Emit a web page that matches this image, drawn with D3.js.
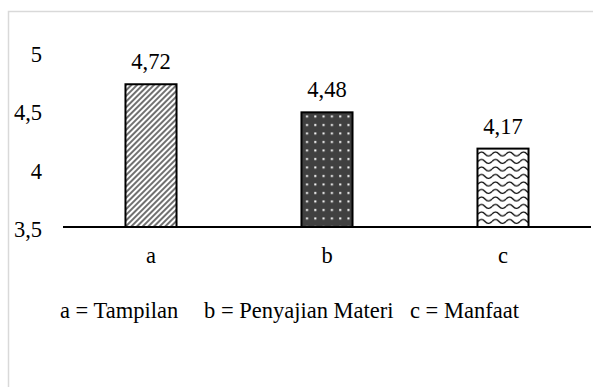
<!DOCTYPE html>
<html>
<head>
<meta charset="utf-8">
<script src="https://cdn.jsdelivr.net/npm/d3@7"></script>
<style>
  html, body { margin: 0; padding: 0; background: #fff; }
  svg { display: block; }
</style>
</head>
<body>
<svg id="chart" width="593" height="387" font-family="'Liberation Serif', 'DejaVu Serif', serif"></svg>
<script>
const categories = ["a", "b", "c"];
const values = [4.72, 4.48, 4.17];
const valueLabels = ["4,72", "4,48", "4,17"];
const yTicks = [3.5, 4, 4.5, 5];
const yTickLabels = ["3,5", "4", "4,5", "5"];
const legendItems = ["a = Tampilan", "b = Penyajian Materi", "c = Manfaat"];
const patterns = ["pat-diag", "pat-dots", "pat-wave"];
const FONT = "Liberation Serif";

const svg = d3.select("#chart");
const defs = svg.append("defs");

// diagonal hatch
const p1 = defs.append("pattern").attr("id", "pat-diag").attr("patternUnits", "userSpaceOnUse")
  .attr("width", 4).attr("height", 4).attr("patternTransform", "rotate(45)");
p1.append("rect").attr("width", 4).attr("height", 4).attr("fill", "#fff");
p1.append("line").attr("x1", 1).attr("y1", 0).attr("x2", 1).attr("y2", 4)
  .attr("stroke", "#333").attr("stroke-width", 1.4);

// dark with white dots
const p2 = defs.append("pattern").attr("id", "pat-dots").attr("patternUnits", "userSpaceOnUse")
  .attr("width", 8.3).attr("height", 8.5).attr("x", 303).attr("y", 2);
p2.append("rect").attr("width", 8.3).attr("height", 8.5).attr("fill", "#404040");
p2.append("rect").attr("x", 3).attr("y", 3).attr("width", 2).attr("height", 2).attr("fill", "#fff");

// wave
const p3 = defs.append("pattern").attr("id", "pat-wave").attr("patternUnits", "userSpaceOnUse")
  .attr("width", 14).attr("height", 7.5).attr("x", 478).attr("y", 0);
p3.append("rect").attr("width", 14).attr("height", 7.5).attr("fill", "#fff");
p3.append("path").attr("d", "M0,4 Q3.5,0 7,4 T14,4").attr("fill", "none")
  .attr("stroke", "#000").attr("stroke-width", 1.3);

// outer border
svg.append("rect").attr("x", 8.5).attr("y", 11.5).attr("width", 620).attr("height", 420)
  .attr("fill", "none").attr("stroke", "#d9d9d9").attr("stroke-width", 1.5);

const x = d3.scaleBand().domain(categories).range([63, 591])
  .paddingInner(0.71).paddingOuter(0.355);
const y = d3.scaleLinear().domain([3.5, 5]).range([227, 51.5]);

function styleText(sel) {
  return sel.attr("font-family", FONT).attr("font-size", 22.5).attr("fill", "#000");
}

// y tick labels
svg.append("g").selectAll("text").data(yTicks).join("text")
  .attr("x", 42).attr("y", d => y(d) + 10)
  .attr("text-anchor", "end")
  .call(styleText)
  .text((d, i) => yTickLabels[i]);

// bars
svg.append("g").selectAll("rect").data(values).join("rect")
  .attr("x", (d, i) => x(categories[i]))
  .attr("y", d => y(d))
  .attr("width", x.bandwidth())
  .attr("height", d => y(3.5) - y(d))
  .attr("fill", (d, i) => `url(#${patterns[i]})`)
  .attr("stroke", "#000").attr("stroke-width", 2);

// value labels
svg.append("g").selectAll("text").data(values).join("text")
  .attr("x", (d, i) => x(categories[i]) + x.bandwidth() / 2)
  .attr("y", d => y(d) - 15)
  .attr("text-anchor", "middle")
  .call(styleText)
  .text((d, i) => valueLabels[i]);

// x axis line
svg.append("line").attr("x1", 63).attr("x2", 591)
  .attr("y1", y(3.5)).attr("y2", y(3.5))
  .attr("stroke", "#000").attr("stroke-width", 2);

// category labels
svg.append("g").selectAll("text").data(categories).join("text")
  .attr("x", d => x(d) + x.bandwidth() / 2)
  .attr("y", 263)
  .attr("text-anchor", "middle")
  .call(styleText)
  .text(d => d);

// legend
const legendX = [60, 204, 410];
svg.append("g").selectAll("text").data(legendItems).join("text")
  .attr("x", (d, i) => legendX[i]).attr("y", 318)
  .call(styleText)
  .text(d => d);
</script>
</body>
</html>
